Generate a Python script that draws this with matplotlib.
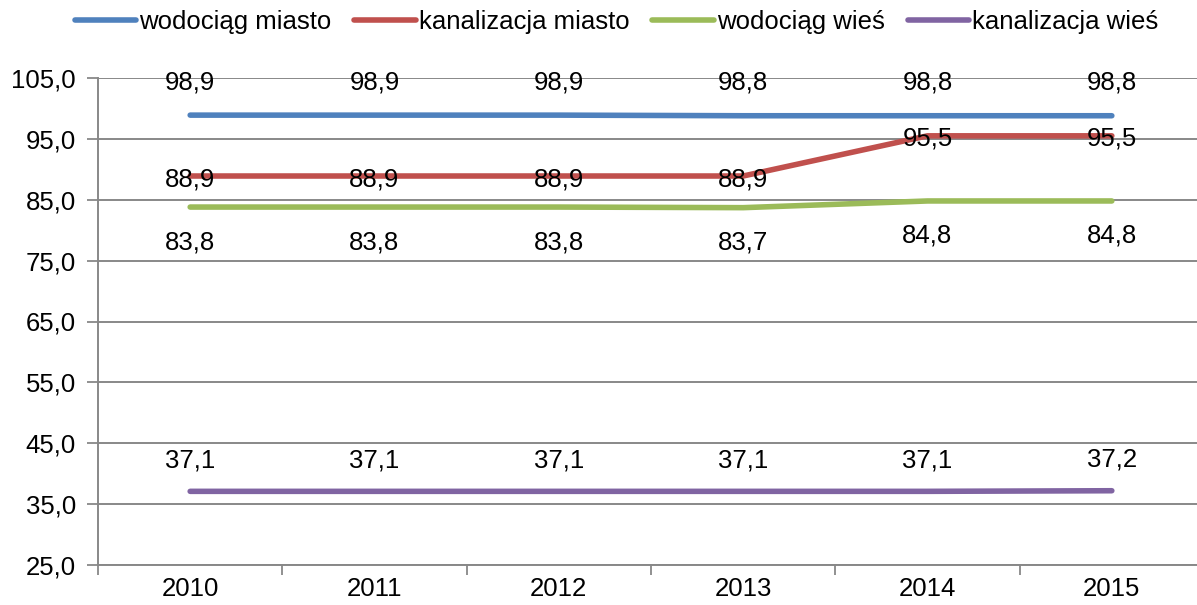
import matplotlib.pyplot as plt
import numpy as np

plt.rcParams['font.family'] = ['Liberation Sans', 'DejaVu Sans']

years = ['2010', '2011', '2012', '2013', '2014', '2015']
wodociag_miasto = [98.9, 98.9, 98.9, 98.8, 98.8, 98.8]
kanalizacja_miasto = [88.9, 88.9, 88.9, 88.9, 95.5, 95.5]
wodociag_wies = [83.8, 83.8, 83.8, 83.7, 84.8, 84.8]
kanalizacja_wies = [37.1, 37.1, 37.1, 37.1, 37.1, 37.2]
y_ticks = [25, 35, 45, 55, 65, 75, 85, 95, 105]

series = [
    ('wodociąg miasto', wodociag_miasto, '#4F81BD', 33),
    ('kanalizacja miasto', kanalizacja_miasto, '#C0504D', -3),
    ('wodociąg wieś', wodociag_wies, '#9BBB59', -35),
    ('kanalizacja wieś', kanalizacja_wies, '#8064A2', 31),
]

fs = 18.5
fig = plt.figure(figsize=(11.97, 6.05), dpi=100)
ax = fig.add_axes([98 / 1197, 40 / 605, 1106 / 1197, 487 / 605])

x = np.arange(len(years))
for name, vals, col, dy in series:
    ax.plot(x, vals, color=col, lw=4, solid_capstyle='round', label=name, zorder=3)
    for xi, v in zip(x, vals):
        ax.annotate(f'{v:.1f}'.replace('.', ','), (xi, v), xytext=(0, dy),
                    textcoords='offset pixels', ha='center', va='center',
                    fontsize=fs, color='black', zorder=4)

ax.set_xlim(-0.5, len(years) - 0.5)
ax.set_ylim(25, 105)
ax.set_yticks(y_ticks)
ax.set_yticklabels([f'{t:.1f}'.replace('.', ',') for t in y_ticks], fontsize=fs)
ax.set_xticks(x)
ax.set_xticklabels(years, fontsize=fs)
ax.set_xticks(np.arange(-0.5, len(years), 1), minor=True)
ax.tick_params(axis='x', which='major', length=0, pad=9)
ax.tick_params(axis='x', which='minor', length=7, width=1.3, color='#888888')
ax.tick_params(axis='y', length=8, width=1.3, color='#888888', pad=8)
ax.yaxis.grid(True, color='#888888', lw=1.4)
ax.set_axisbelow(True)
for s in ['top', 'right']:
    ax.spines[s].set_visible(False)
for s in ['left', 'bottom']:
    ax.spines[s].set_color('#888888')
    ax.spines[s].set_linewidth(1.4)

fig.legend(loc='center', bbox_to_anchor=(0.515, 0.964), ncol=4, frameon=False,
           fontsize=fs, handlelength=2.4, handletextpad=0.1, columnspacing=0.9)

fig.savefig('out.png', dpi=100)
